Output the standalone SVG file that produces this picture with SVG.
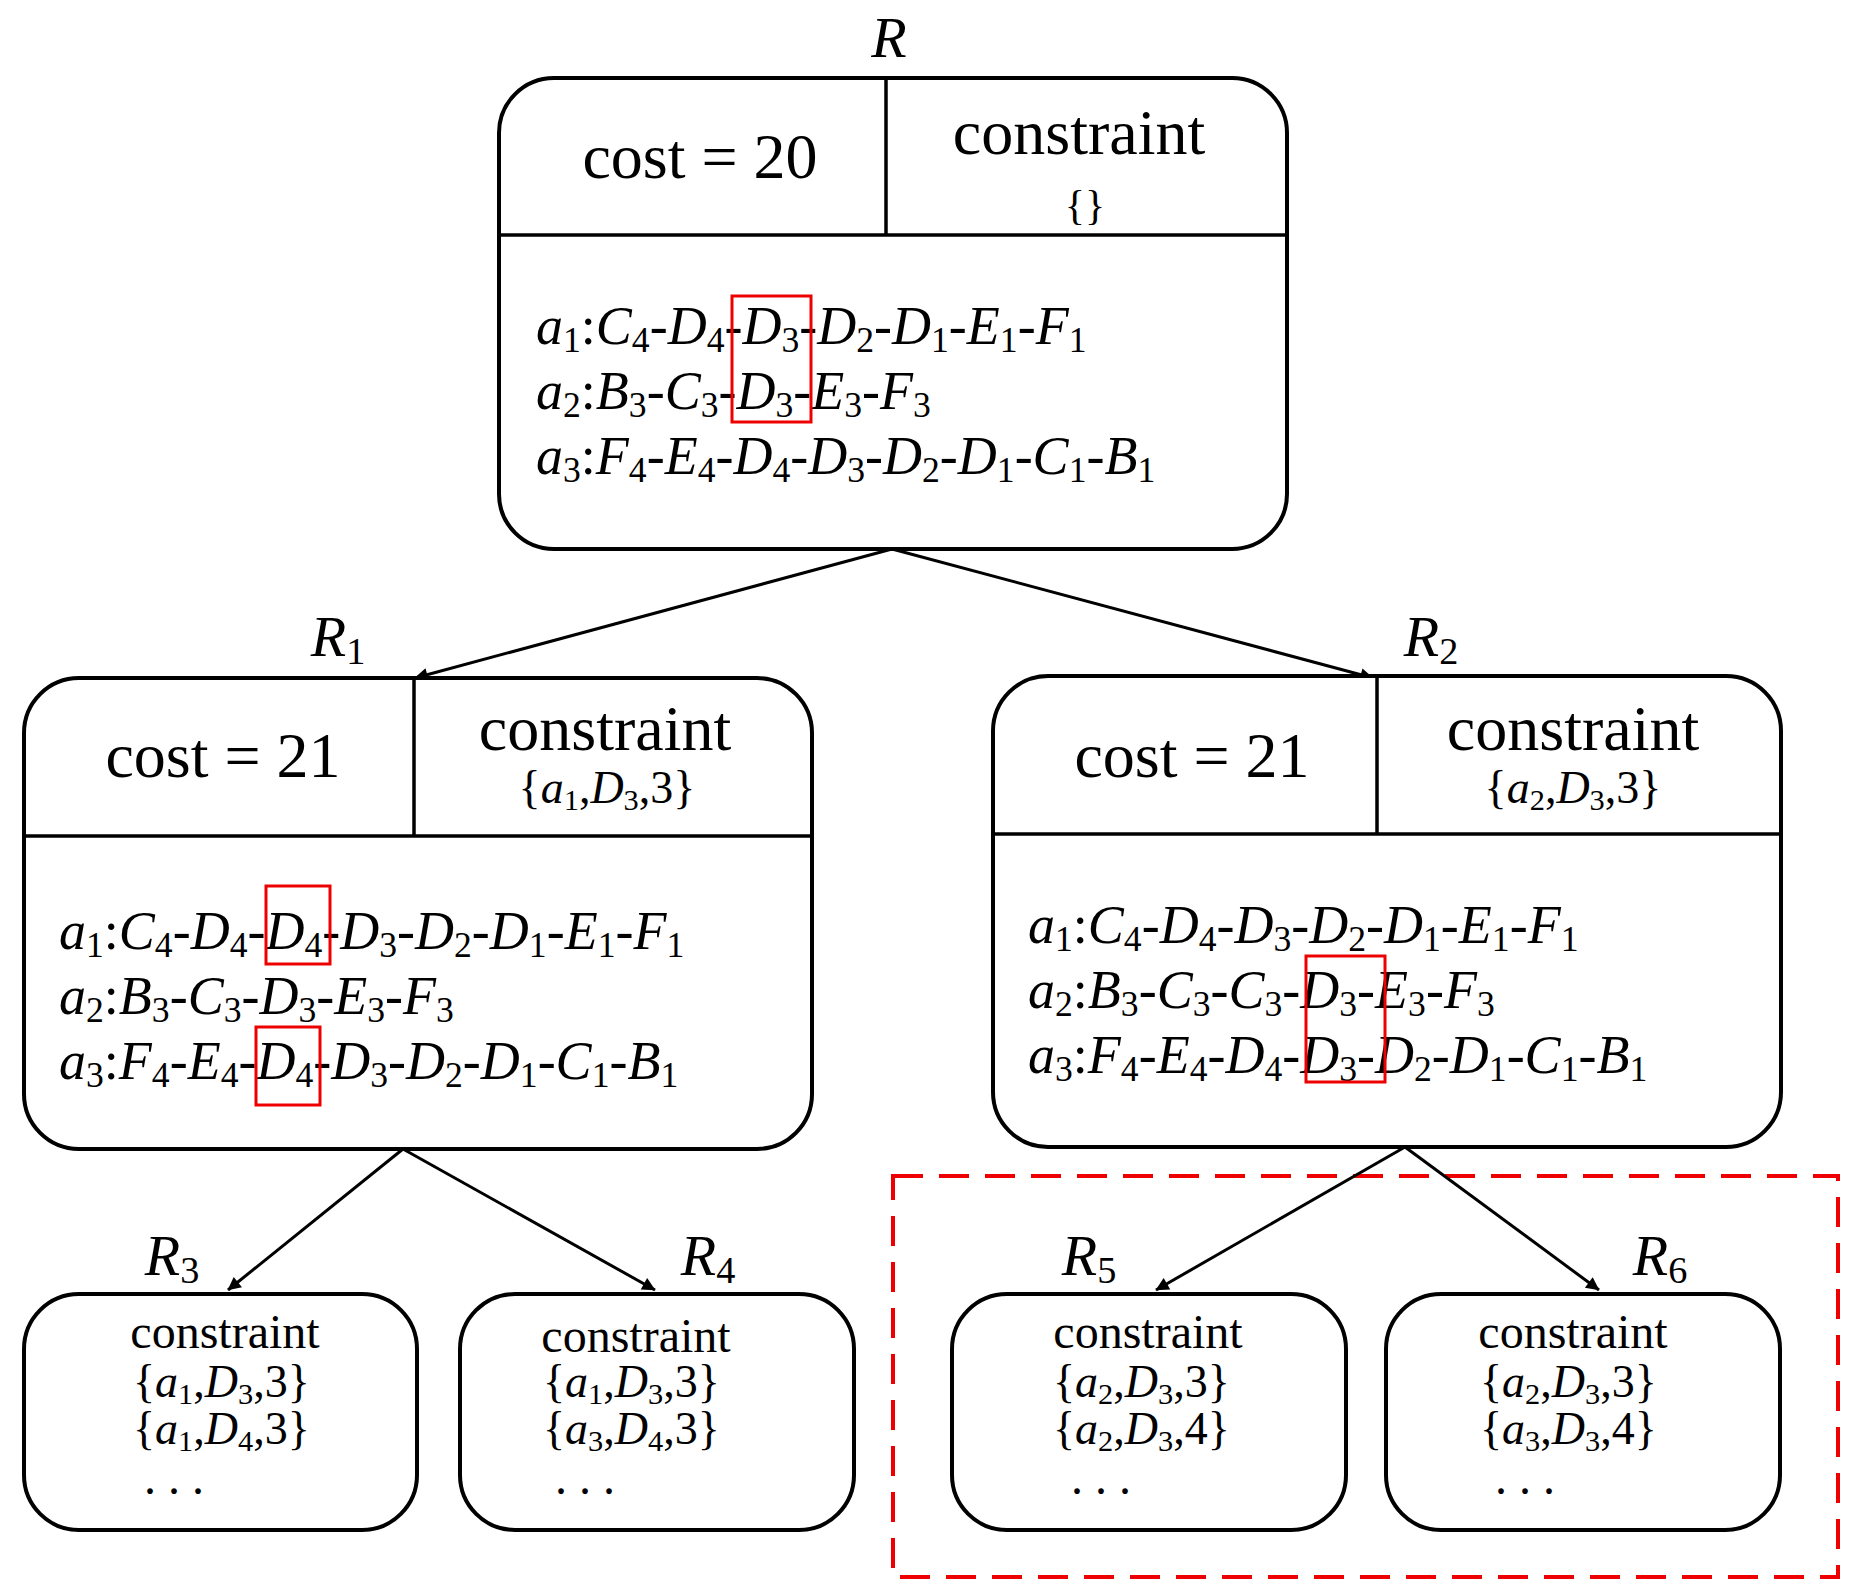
<svg xmlns="http://www.w3.org/2000/svg" width="1850" height="1589" viewBox="0 0 1850 1589" font-family="'Liberation Serif', 'Times New Roman', serif">
<style>
text{font-family:'Liberation Serif','Times New Roman',serif;fill:#000}
.box{fill:#fff;stroke:#000;stroke-width:4}
.ln{stroke:#000;stroke-width:3.5}
.h{font-size:64px;text-anchor:middle}
.b{font-size:54px;font-style:italic}
.c{font-size:46px;font-style:italic}
.lab{font-size:58px;font-style:italic;text-anchor:middle}
.s{font-size:66%;font-style:normal;baseline-shift:-0.22em}
.n{font-style:normal}
.red{fill:none;stroke:#e00;stroke-width:3}
.bc{font-size:48px;text-anchor:middle}
.con{stroke:#000;stroke-width:3;fill:none;marker-end:url(#ah)}
</style>
<defs>
<marker id="ah" viewBox="0 0 10 10" refX="9" refY="5" markerWidth="6" markerHeight="6" orient="auto" markerUnits="userSpaceOnUse" style="overflow:visible">
<path d="M0,0 L10,5 L0,10 Z" fill="#000" transform="scale(2.2) translate(-5.5,-2.7)"/>
</marker>
</defs>
<rect x="893" y="1176" width="945" height="401" fill="none" stroke="#e00" stroke-width="4" stroke-dasharray="30 16"/>
<g id="connectors">
<path class="con" d="M892,549 L415,678"/>
<path class="con" d="M892,549 L1373,678"/>
<path class="con" d="M403,1149 L228,1290"/>
<path class="con" d="M403,1149 L655,1290"/>
<path class="con" d="M1405,1147 L1156,1290"/>
<path class="con" d="M1405,1147 L1599,1290"/>
</g>
<g id="R">
<text class="lab" x="889" y="57">R</text>
<rect class="box" x="499" y="78" width="788" height="471" rx="55"/>
<line class="ln" x1="499" y1="235" x2="1287" y2="235"/>
<line class="ln" x1="886" y1="78" x2="886" y2="235"/>
<text class="h" x="700" y="178">cost = 20</text>
<text class="h" x="1079" y="154">constraint</text>
<text x="1085" y="219" font-size="42" text-anchor="middle">{}</text>
<text class="b" x="536" y="344">a<tspan class="s">1</tspan><tspan class="n">:</tspan>C<tspan class="s">4</tspan><tspan class="n">-</tspan>D<tspan class="s">4</tspan><tspan class="n">-</tspan>D<tspan class="s">3</tspan><tspan class="n">-</tspan>D<tspan class="s">2</tspan><tspan class="n">-</tspan>D<tspan class="s">1</tspan><tspan class="n">-</tspan>E<tspan class="s">1</tspan><tspan class="n">-</tspan>F<tspan class="s">1</tspan></text>
<text class="b" x="536" y="409">a<tspan class="s">2</tspan><tspan class="n">:</tspan>B<tspan class="s">3</tspan><tspan class="n">-</tspan>C<tspan class="s">3</tspan><tspan class="n">-</tspan>D<tspan class="s">3</tspan><tspan class="n">-</tspan>E<tspan class="s">3</tspan><tspan class="n">-</tspan>F<tspan class="s">3</tspan></text>
<text class="b" x="536" y="474">a<tspan class="s">3</tspan><tspan class="n">:</tspan>F<tspan class="s">4</tspan><tspan class="n">-</tspan>E<tspan class="s">4</tspan><tspan class="n">-</tspan>D<tspan class="s">4</tspan><tspan class="n">-</tspan>D<tspan class="s">3</tspan><tspan class="n">-</tspan>D<tspan class="s">2</tspan><tspan class="n">-</tspan>D<tspan class="s">1</tspan><tspan class="n">-</tspan>C<tspan class="s">1</tspan><tspan class="n">-</tspan>B<tspan class="s">1</tspan></text>
<rect class="red" x="732" y="296" width="79" height="126"/>
</g>
<g id="R1">
<text class="lab" x="338" y="656">R<tspan class="s">1</tspan></text>
<rect class="box" x="24" y="678" width="788" height="471" rx="55"/>
<line class="ln" x1="24" y1="836" x2="814" y2="836"/>
<line class="ln" x1="414" y1="678" x2="414" y2="836"/>
<text class="h" x="223" y="777">cost = 21</text>
<text class="h" x="605" y="750">constraint</text>
<text class="c" x="607" y="803" text-anchor="middle"><tspan class="n">{</tspan>a<tspan class="s">1</tspan><tspan class="n">,</tspan>D<tspan class="s">3</tspan><tspan class="n">,3}</tspan></text>
<text class="b" x="59" y="949">a<tspan class="s">1</tspan><tspan class="n">:</tspan>C<tspan class="s">4</tspan><tspan class="n">-</tspan>D<tspan class="s">4</tspan><tspan class="n">-</tspan>D<tspan class="s">4</tspan><tspan class="n">-</tspan>D<tspan class="s">3</tspan><tspan class="n">-</tspan>D<tspan class="s">2</tspan><tspan class="n">-</tspan>D<tspan class="s">1</tspan><tspan class="n">-</tspan>E<tspan class="s">1</tspan><tspan class="n">-</tspan>F<tspan class="s">1</tspan></text>
<text class="b" x="59" y="1014">a<tspan class="s">2</tspan><tspan class="n">:</tspan>B<tspan class="s">3</tspan><tspan class="n">-</tspan>C<tspan class="s">3</tspan><tspan class="n">-</tspan>D<tspan class="s">3</tspan><tspan class="n">-</tspan>E<tspan class="s">3</tspan><tspan class="n">-</tspan>F<tspan class="s">3</tspan></text>
<text class="b" x="59" y="1079">a<tspan class="s">3</tspan><tspan class="n">:</tspan>F<tspan class="s">4</tspan><tspan class="n">-</tspan>E<tspan class="s">4</tspan><tspan class="n">-</tspan>D<tspan class="s">4</tspan><tspan class="n">-</tspan>D<tspan class="s">3</tspan><tspan class="n">-</tspan>D<tspan class="s">2</tspan><tspan class="n">-</tspan>D<tspan class="s">1</tspan><tspan class="n">-</tspan>C<tspan class="s">1</tspan><tspan class="n">-</tspan>B<tspan class="s">1</tspan></text>
<rect class="red" x="266" y="886" width="64" height="78"/>
<rect class="red" x="256" y="1027" width="64" height="78"/>
</g>
<g id="R2">
<text class="lab" x="1431" y="656">R<tspan class="s">2</tspan></text>
<rect class="box" x="993" y="676" width="788" height="471" rx="55"/>
<line class="ln" x1="991" y1="834" x2="1781" y2="834"/>
<line class="ln" x1="1377" y1="676" x2="1377" y2="834"/>
<text class="h" x="1192" y="777">cost = 21</text>
<text class="h" x="1573" y="750">constraint</text>
<text class="c" x="1573" y="803" text-anchor="middle"><tspan class="n">{</tspan>a<tspan class="s">2</tspan><tspan class="n">,</tspan>D<tspan class="s">3</tspan><tspan class="n">,3}</tspan></text>
<text class="b" x="1028" y="943">a<tspan class="s">1</tspan><tspan class="n">:</tspan>C<tspan class="s">4</tspan><tspan class="n">-</tspan>D<tspan class="s">4</tspan><tspan class="n">-</tspan>D<tspan class="s">3</tspan><tspan class="n">-</tspan>D<tspan class="s">2</tspan><tspan class="n">-</tspan>D<tspan class="s">1</tspan><tspan class="n">-</tspan>E<tspan class="s">1</tspan><tspan class="n">-</tspan>F<tspan class="s">1</tspan></text>
<text class="b" x="1028" y="1008">a<tspan class="s">2</tspan><tspan class="n">:</tspan>B<tspan class="s">3</tspan><tspan class="n">-</tspan>C<tspan class="s">3</tspan><tspan class="n">-</tspan>C<tspan class="s">3</tspan><tspan class="n">-</tspan>D<tspan class="s">3</tspan><tspan class="n">-</tspan>E<tspan class="s">3</tspan><tspan class="n">-</tspan>F<tspan class="s">3</tspan></text>
<text class="b" x="1028" y="1073">a<tspan class="s">3</tspan><tspan class="n">:</tspan>F<tspan class="s">4</tspan><tspan class="n">-</tspan>E<tspan class="s">4</tspan><tspan class="n">-</tspan>D<tspan class="s">4</tspan><tspan class="n">-</tspan>D<tspan class="s">3</tspan><tspan class="n">-</tspan>D<tspan class="s">2</tspan><tspan class="n">-</tspan>D<tspan class="s">1</tspan><tspan class="n">-</tspan>C<tspan class="s">1</tspan><tspan class="n">-</tspan>B<tspan class="s">1</tspan></text>
<rect class="red" x="1306" y="956" width="79" height="126"/>
</g>
<g id="R3">
<text class="lab" x="172" y="1275">R<tspan class="s">3</tspan></text>
<rect class="box" x="24" y="1294" width="393" height="236" rx="55"/>
<text class="bc" x="225" y="1348">constraint</text>
<text class="c" x="133" y="1397"><tspan class="n">{</tspan>a<tspan class="s">1</tspan><tspan class="n">,</tspan>D<tspan class="s">3</tspan><tspan class="n">,3}</tspan></text>
<text class="c" x="133" y="1444"><tspan class="n">{</tspan>a<tspan class="s">1</tspan><tspan class="n">,</tspan>D<tspan class="s">4</tspan><tspan class="n">,3}</tspan></text>
<text class="bc" x="174" y="1494">. . .</text>
</g>
<g id="R4">
<text class="lab" x="708" y="1275">R<tspan class="s">4</tspan></text>
<rect class="box" x="460" y="1294" width="394" height="236" rx="55"/>
<text class="bc" x="636" y="1352">constraint</text>
<text class="c" x="543" y="1397"><tspan class="n">{</tspan>a<tspan class="s">1</tspan><tspan class="n">,</tspan>D<tspan class="s">3</tspan><tspan class="n">,3}</tspan></text>
<text class="c" x="543" y="1444"><tspan class="n">{</tspan>a<tspan class="s">3</tspan><tspan class="n">,</tspan>D<tspan class="s">4</tspan><tspan class="n">,3}</tspan></text>
<text class="bc" x="585" y="1494">. . .</text>
</g>
<g id="R5">
<text class="lab" x="1089" y="1275">R<tspan class="s">5</tspan></text>
<rect class="box" x="952" y="1294" width="394" height="236" rx="55"/>
<text class="bc" x="1148" y="1348">constraint</text>
<text class="c" x="1053" y="1397"><tspan class="n">{</tspan>a<tspan class="s">2</tspan><tspan class="n">,</tspan>D<tspan class="s">3</tspan><tspan class="n">,3}</tspan></text>
<text class="c" x="1053" y="1444"><tspan class="n">{</tspan>a<tspan class="s">2</tspan><tspan class="n">,</tspan>D<tspan class="s">3</tspan><tspan class="n">,4}</tspan></text>
<text class="bc" x="1101" y="1494">. . .</text>
</g>
<g id="R6">
<text class="lab" x="1660" y="1275">R<tspan class="s">6</tspan></text>
<rect class="box" x="1386" y="1294" width="394" height="236" rx="55"/>
<text class="bc" x="1573" y="1348">constraint</text>
<text class="c" x="1480" y="1397"><tspan class="n">{</tspan>a<tspan class="s">2</tspan><tspan class="n">,</tspan>D<tspan class="s">3</tspan><tspan class="n">,3}</tspan></text>
<text class="c" x="1480" y="1444"><tspan class="n">{</tspan>a<tspan class="s">3</tspan><tspan class="n">,</tspan>D<tspan class="s">3</tspan><tspan class="n">,4}</tspan></text>
<text class="bc" x="1525" y="1494">. . .</text>
</g>
</svg>
